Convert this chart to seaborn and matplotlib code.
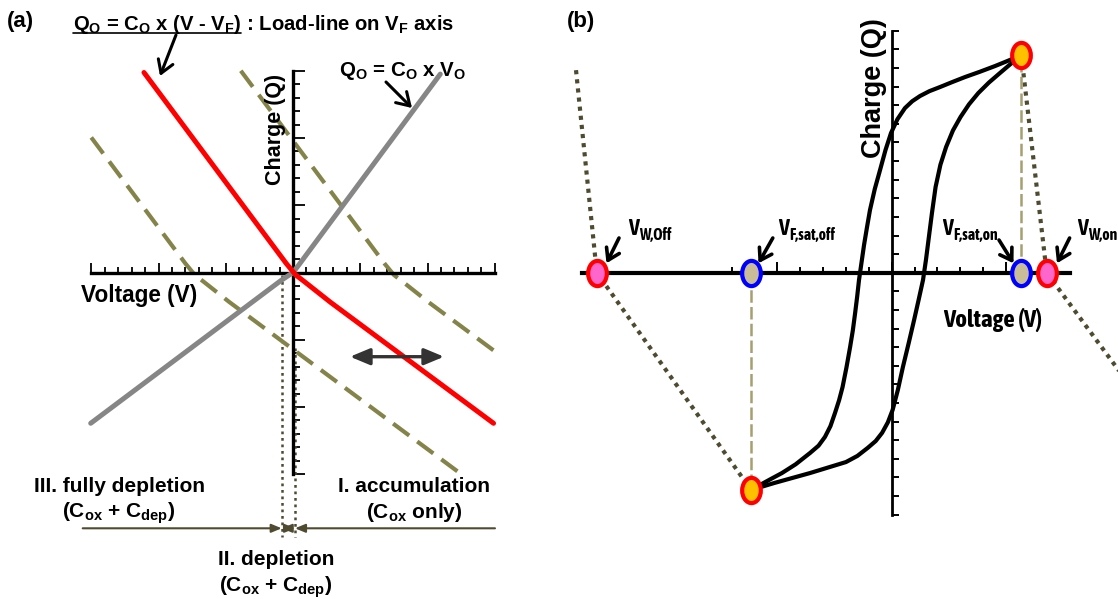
import matplotlib
matplotlib.use("Agg")
import numpy as np
import matplotlib.pyplot as plt
from matplotlib import font_manager
from matplotlib.lines import Line2D
from matplotlib.patches import FancyArrowPatch
from matplotlib.path import Path
from matplotlib.transforms import Affine2D
import seaborn as sns

# ---------------- (a) load-line construction ----------------
# load line Q_O = C_O (V - V_F)
load_v = [-11.08, -0.50, 0.20, 0.90, 2.77, 14.91]
load_q = [14.87, 0.67, -0.18, -0.72, -2.20, -11.21]
# oxide line Q_O = C_O V_O
cap_v = [-15.04, -0.90, 0.00, 0.40, 10.95]
cap_q = [-11.21, -0.60, 0.00, 0.52, 14.75]
# load line moved to lower / higher V_F
load_lo_v = [-15.00, -8.00, -7.30, -6.60, -4.73, 12.60]
load_lo_q = [10.04, 0.67, -0.18, -0.72, -2.20, -15.06]
load_hi_v = [-3.88, 6.80, 7.50, 8.20, 10.07, 14.91]
load_hi_q = [15.00, 0.67, -0.18, -0.72, -2.20, -5.79]
# borders of the depletion region
depletion_edges = [-0.84, 0.15]
a_span = 15

# ---------------- (b) Q-V hysteresis ----------------
branch_left_v = [-6.15, -5.76, -5.30, -4.80, -4.20, -3.57, -3.20, -2.92, -2.68, -2.48,
                 -2.30, -2.15, -1.98, -1.82, -1.70, -1.60, -1.51, -1.43, -1.32, -1.21,
                 -1.08, -0.95, -0.74, -0.51, -0.27, -0.03, 0.25, 0.58, 0.90, 1.24,
                 1.65, 2.11, 2.65, 3.21, 3.85, 4.52, 5.10, 5.67]
branch_left_q = [-11.68, -11.41, -11.10, -10.77, -10.30, -9.69, -9.30, -8.83, -8.25, -7.54,
                 -6.85, -6.15, -5.10, -4.00, -3.10, -2.17, -1.28, -0.39, 0.55, 1.49,
                 2.45, 3.37, 4.50, 5.52, 6.60, 7.51, 8.25, 8.85, 9.22, 9.50,
                 9.76, 9.98, 10.25, 10.52, 10.80, 11.11, 11.40, 11.70]
branch_right_v = [-6.15, -5.12, -3.57, -2.00, -1.50, -1.05, -0.70, -0.42, -0.17, 0.04,
                  0.27, 0.49, 0.74, 0.98, 1.18, 1.37, 1.50, 1.61, 1.76, 1.92,
                  2.13, 2.38, 2.68, 3.01, 3.38, 3.79, 4.25, 4.74, 5.20, 5.67]
branch_right_q = [-11.68, -11.30, -10.77, -10.18, -9.85, -9.42, -9.05, -8.61, -8.05, -7.38,
                  -6.30, -5.07, -3.80, -2.54, -1.45, -0.39, 0.70, 1.76, 3.20, 4.61,
                  5.80, 6.76, 7.65, 8.37, 9.05, 9.66, 10.22, 10.74, 11.22, 11.70]
v_w_off, v_f_sat_off, v_f_sat_on, v_w_on = -12.90, -6.15, 5.67, 6.78
q_sat_neg, q_sat_pos = -11.68, 11.70
wline_off_v = [-13.81, v_w_off, v_f_sat_off]
wline_off_q = [10.89, 0.0, q_sat_neg]
wline_on_v = [v_f_sat_on, v_w_on, 10.20]
wline_on_q = [q_sat_pos, 0.0, -5.70]
b_v_ticks = list(range(-7, 8))
b_q_ticks = list(range(-13, 14))

marker_subscripts = ["W,Off", "F,sat,off", "F,sat,on", "W,on"]

# ---------------- style ----------------
sns.set_theme(style="white")
entries = font_manager.fontManager.ttflist
narrow_names = [f.name for f in entries
                if ("Narrow" in f.name or "Condensed" in f.name) and f.weight in ("bold", 700)]
if narrow_names:
    NARROW, NARROW_STRETCH, NARROW_SCALE = narrow_names[0], "normal", 1.0
elif any(f.name == "DejaVu Sans" and str(f.stretch) == "condensed" for f in entries):
    NARROW, NARROW_STRETCH, NARROW_SCALE = "DejaVu Sans", "condensed", 0.95
else:
    NARROW, NARROW_STRETCH, NARROW_SCALE = "Liberation Sans", "normal", 0.86

plt.rcParams["font.family"] = ["Liberation Sans", "DejaVu Sans"]
plt.rcParams["font.weight"] = "bold"
plt.rcParams["text.color"] = "black"
plt.rcParams["mathtext.fontset"] = "custom"
plt.rcParams["mathtext.rm"] = "Liberation Sans:bold"
plt.rcParams["mathtext.it"] = "Liberation Sans:bold"
plt.rcParams["mathtext.sf"] = "Liberation Sans:bold"
plt.rcParams["mathtext.bf"] = "Liberation Sans:bold"

W, H = 1118, 599
fig = plt.figure(figsize=(W / 100, H / 100), dpi=100)
fig.patch.set_facecolor("white")


def panel(x0, x1, origin, unit):
    """Axes over figure columns x0..x1 (pixels), origin/unit in pixels."""
    ax = fig.add_axes([x0 / W, 0, (x1 - x0) / W, 1])
    ox, oy = origin
    ux, uy = unit
    ax.set_xlim((x0 - ox) / ux, (x1 - ox) / ux)
    ax.set_ylim((oy - H) / uy, oy / uy)
    ax.set_facecolor("none")
    for s in ("top", "right"):
        ax.spines[s].set_visible(False)
    for s in ("left", "bottom"):
        ax.spines[s].set_position(("data", 0))
        ax.spines[s].set_color("black")
    ax.tick_params(which="both", direction="in", bottom=True, left=True, top=False,
                   right=False, labelbottom=False, labelleft=False, color="black")
    return ax


def curve(ax, x, y, **kw):
    sns.lineplot(x=x, y=y, ax=ax, sort=False, estimator=None, errorbar=None,
                 legend=False, **kw)


def fig_text(x, y, s, **kw):
    return fig.text(x / W, 1 - y / H, s, **kw)


def arrow(tail, tip, **props):
    fig.add_artist(FancyArrowPatch((tail[0], H - tail[1]), (tip[0], H - tip[1]),
                                   transform=None, shrinkA=0, shrinkB=0, **props))


# ================= panel (a) =================
ax_a = panel(0, 560, (293, 272.5), (13.45, 13.45))
ax_a.spines["left"].set_bounds(-a_span, a_span)
ax_a.spines["bottom"].set_bounds(-a_span, a_span)
ax_a.spines["left"].set_linewidth(2.4)
ax_a.spines["bottom"].set_linewidth(2.4)
ax_a.set_xticks(np.arange(-a_span, a_span + 1, 5))
ax_a.set_xticks(np.arange(-a_span, a_span + 1), minor=True)
ax_a.set_yticks(np.arange(-a_span, a_span + 1, 5))
ax_a.set_yticks(np.arange(-a_span, a_span + 1), minor=True)
ax_a.xaxis.set_tick_params(which="major", length=7.5, width=1.3)
ax_a.xaxis.set_tick_params(which="minor", length=4.5, width=1.3)
ax_a.yaxis.set_tick_params(which="major", length=8.5, width=1.3)
ax_a.yaxis.set_tick_params(which="minor", length=5.0, width=1.3)

olive = "#84844a"
dark_olive = "#4f4b30"
curve(ax_a, load_lo_v, load_lo_q, color=olive, lw=3, linestyle=(0, (4.8, 2.4)), zorder=2)
curve(ax_a, load_hi_v, load_hi_q, color=olive, lw=3, linestyle=(0, (4.8, 2.4)), zorder=2)
curve(ax_a, cap_v, cap_q, color="#868686", lw=3.6, zorder=3, solid_capstyle="round")
curve(ax_a, load_v, load_q, color="#ff0000", lw=3.6, zorder=4, solid_capstyle="round")
curve(ax_a, [depletion_edges[0]] * 2, [-0.2, -19.67], color=dark_olive, lw=1.8,
      linestyle=(0, (1.1, 1.5)), zorder=1)
curve(ax_a, [depletion_edges[1]] * 2, [-5.6, -19.67], color=dark_olive, lw=1.8,
      linestyle=(0, (1.1, 1.5)), zorder=1)

# region brackets
reg_y = 528.3
arrow((82.7, reg_y), (281.7, reg_y), arrowstyle="-|>,head_length=0.6,head_width=0.25",
      mutation_scale=10, lw=1.5, color=dark_olive)
arrow((281.7, reg_y), (295, reg_y), arrowstyle="<|-|>,head_length=0.6,head_width=0.25",
      mutation_scale=10, lw=1.5, color=dark_olive)
arrow((495, reg_y), (295, reg_y), arrowstyle="-|>,head_length=0.6,head_width=0.25",
      mutation_scale=10, lw=1.5, color=dark_olive)
# V_F sweep
arrow((350, 356.7), (444, 356.7), arrowstyle="<|-|>,head_length=0.6,head_width=0.25",
      mutation_scale=20, lw=2.4, color="#333333", zorder=6)

fig_text(7, 21, "(a)", fontsize=16, va="center")
t_eq = fig_text(73, 30.5, "Q$_O$ = C$_O$ x (V - V$_F$)", fontsize=14.6, va="baseline")
fig_text(339, 76, "Q$_O$ = C$_O$ x V$_O$", fontsize=14.8, va="baseline")
fig_text(276, 129, "Charge (Q)", fontsize=15.5, rotation=90, ha="center", va="center")
fig_text(81, 302, "Voltage (V)", fontsize=16.3, va="baseline")
fig_text(119, 491.5, "III. fully depletion", fontsize=15, ha="center", va="baseline")
fig_text(119, 517.5, "(C$_{ox}$ + C$_{dep}$)", fontsize=15, ha="center", va="baseline")
fig_text(414.5, 491.5, "I. accumulation", fontsize=15, ha="center", va="baseline")
fig_text(414.5, 517.5, "(C$_{ox}$ only)", fontsize=15, ha="center", va="baseline")
fig_text(276, 565, "II. depletion", fontsize=15, ha="center", va="baseline")
fig_text(276, 591.5, "(C$_{ox}$ + C$_{dep}$)", fontsize=15, ha="center", va="baseline")

head = "->,head_length=0.45,head_width=0.28"
arrow((176, 35), (160, 76), arrowstyle=head, mutation_scale=20, lw=2.2, color="black")
arrow((386, 82), (412, 108), arrowstyle=head, mutation_scale=20, lw=2.2, color="black")

# ================= panel (b) =================
ax_b = panel(560, W, (891.7, 272.7), (22.86, 18.6))
ax_b.spines["bottom"].set_bounds(-13.55, 7.8)
ax_b.spines["left"].set_bounds(-13, 13)
ax_b.spines["bottom"].set_linewidth(3.0)
ax_b.spines["left"].set_linewidth(2.0)
ax_b.set_xticks([-5, 0, 5])
ax_b.set_xticks(b_v_ticks, minor=True)
ax_b.set_yticks(b_q_ticks)
ax_b.xaxis.set_tick_params(which="major", length=8, width=1.4)
ax_b.xaxis.set_tick_params(which="minor", length=4.2, width=1.4)
ax_b.yaxis.set_tick_params(which="major", length=4.7, width=1.4)

tan = "#a89f70"
curve(ax_b, wline_off_v, wline_off_q, color=dark_olive, lw=3, linestyle=(0, (1, 1.2)), zorder=2)
curve(ax_b, wline_on_v, wline_on_q, color=dark_olive, lw=3, linestyle=(0, (1, 1.2)), zorder=2)
curve(ax_b, [v_f_sat_off, v_f_sat_off], [0, q_sat_neg], color=tan, lw=1.8,
      linestyle=(0, (5, 1.7)), zorder=2)
curve(ax_b, [v_f_sat_on, v_f_sat_on], [0, q_sat_pos], color=tan, lw=1.8,
      linestyle=(0, (5, 1.7)), zorder=2)
curve(ax_b, branch_left_v, branch_left_q, color="black", lw=3, zorder=4)
curve(ax_b, branch_right_v, branch_right_q, color="black", lw=3, zorder=4)

ellipse = Path.unit_circle().transformed(Affine2D().scale(0.74, 1.0))
mk = dict(ax=ax_b, marker=ellipse, s=330, linewidth=3.0, zorder=7, legend=False)
sns.scatterplot(x=[v_w_off, v_w_on], y=[0, 0], color="#ff66cc", edgecolor="#ff0000", **mk)
sns.scatterplot(x=[v_f_sat_off, v_f_sat_on], y=[0, 0], color="#c8bd98", edgecolor="#0000ff", **mk)
sns.scatterplot(x=[v_f_sat_off, v_f_sat_on], y=[q_sat_neg, q_sat_pos], color="#ffc000",
                edgecolor="#ff0000", **mk)

narrow_kw = dict(family=[NARROW, "DejaVu Sans"], fontstretch=NARROW_STRETCH)
fig_text(567, 21, "(b)", fontsize=16, va="center")
fig_text(874, 88, "Charge (Q)", fontsize=19.5, rotation=90, ha="center", va="center")
fig_text(943, 320.5, "Voltage (V)", fontsize=18 * NARROW_SCALE, va="center", **narrow_kw)
v_marks = [fig_text(x_lab, 235, "V", fontsize=16 * NARROW_SCALE, va="baseline", **narrow_kw)
           for x_lab in [628, 778, 942, 1077]]
head_b = "->,head_length=0.5,head_width=0.32"
for tail, tip in [((619, 238), (606.5, 263.3)), ((772.8, 238), (758.5, 263.3)),
                  ((999, 240), (1013.5, 263.3)), ((1069.6, 238), (1057, 263.3))]:
    arrow(tail, tip, arrowstyle=head_b, mutation_scale=16, lw=2.6, color="black")

# subscripts follow the measured glyphs; underline under the load-line equation
fig.canvas.draw()
renderer = fig.canvas.get_renderer()
for v_t, sub in zip(v_marks, marker_subscripts):
    vb = v_t.get_window_extent(renderer=renderer)
    fig.text(vb.x1 / W, 1 - 240 / H, sub, fontsize=11.3 * NARROW_SCALE, va="baseline",
             **narrow_kw)
bb = t_eq.get_window_extent(renderer=renderer)
fig.add_artist(Line2D([bb.x0, bb.x1], [H - 32.5, H - 32.5], transform=None,
                      color="black", lw=1.2))
fig.text(bb.x1 / W, 1 - 30.5 / H, " : Load-line on V$_F$ axis", fontsize=14.6, va="baseline")

fig.savefig("out.png", dpi=100, facecolor="white")
